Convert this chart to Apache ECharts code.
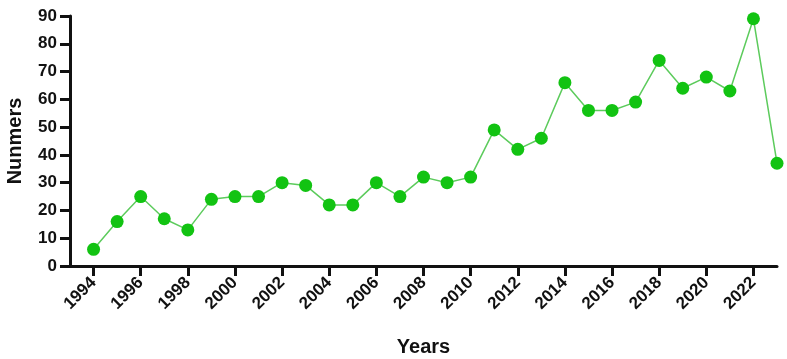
<!DOCTYPE html>
<html>
<head>
<meta charset="utf-8">
<script src="https://cdn.jsdelivr.net/npm/echarts@6/dist/echarts.min.js"></script>
<style>
  html, body { margin: 0; padding: 0; background: #fff; }
  #chart { width: 787px; height: 359px; }
</style>
</head>
<body>
<div id="chart"></div>
<script>
// data
const years = [1994, 1995, 1996, 1997, 1998, 1999, 2000, 2001, 2002, 2003,
  2004, 2005, 2006, 2007, 2008, 2009, 2010, 2011, 2012, 2013,
  2014, 2015, 2016, 2017, 2018, 2019, 2020, 2021, 2022, 2023];
const numbers = [6, 16, 25, 17, 13, 24, 25, 25, 30, 29,
  22, 22, 30, 25, 32, 30, 32, 49, 42, 46,
  66, 56, 56, 59, 74, 64, 68, 63, 89, 37];
const yearTicks = [1994, 1996, 1998, 2000, 2002, 2004, 2006, 2008, 2010,
  2012, 2014, 2016, 2018, 2020, 2022];

const chart = echarts.init(document.getElementById('chart'));
const font = 'Liberation Sans, Arial, sans-serif';

const option = {
  animation: false,
  grid: { left: 70, right: 10, top: 16, bottom: 93, outerBoundsMode: 'none', containLabel: false },
  xAxis: {
    type: 'value',
    min: 1993,
    max: 2023,
    name: 'Years',
    nameLocation: 'middle',
    nameGap: 71,
    nameTextStyle: { color: '#111', fontFamily: font, fontWeight: 'bold', fontSize: 20 },
    axisLine: { show: true, onZero: false, lineStyle: { color: '#111', width: 3 } },
    axisTick: { show: true, length: 10, customValues: yearTicks, lineStyle: { color: '#111', width: 3 } },
    axisLabel: {
      customValues: yearTicks,
      rotate: 45,
      margin: 14,
      color: '#111',
      fontFamily: font,
      fontWeight: 'bold',
      fontSize: 17,
      formatter: v => String(v)
    },
    splitLine: { show: false }
  },
  yAxis: {
    type: 'value',
    min: 0,
    max: 90,
    interval: 10,
    name: 'Nunmers',
    nameLocation: 'middle',
    nameGap: 45,
    nameTextStyle: { color: '#111', fontFamily: font, fontWeight: 'bold', fontSize: 20 },
    axisLine: { show: true, lineStyle: { color: '#111', width: 3 } },
    axisTick: { show: true, length: 10, lineStyle: { color: '#111', width: 3 } },
    axisLabel: { margin: 13, color: '#111', fontFamily: font, fontWeight: 'bold', fontSize: 17 },
    splitLine: { show: false }
  },
  series: [{
    type: 'line',
    data: years.map((y, i) => [y, numbers[i]]),
    symbol: 'circle',
    symbolSize: 13,
    itemStyle: { color: '#12c312' },
    lineStyle: { color: '#5ccb5c', width: 1.5 },
    clip: false
  }]
};
chart.setOption(option);
</script>
</body>
</html>
